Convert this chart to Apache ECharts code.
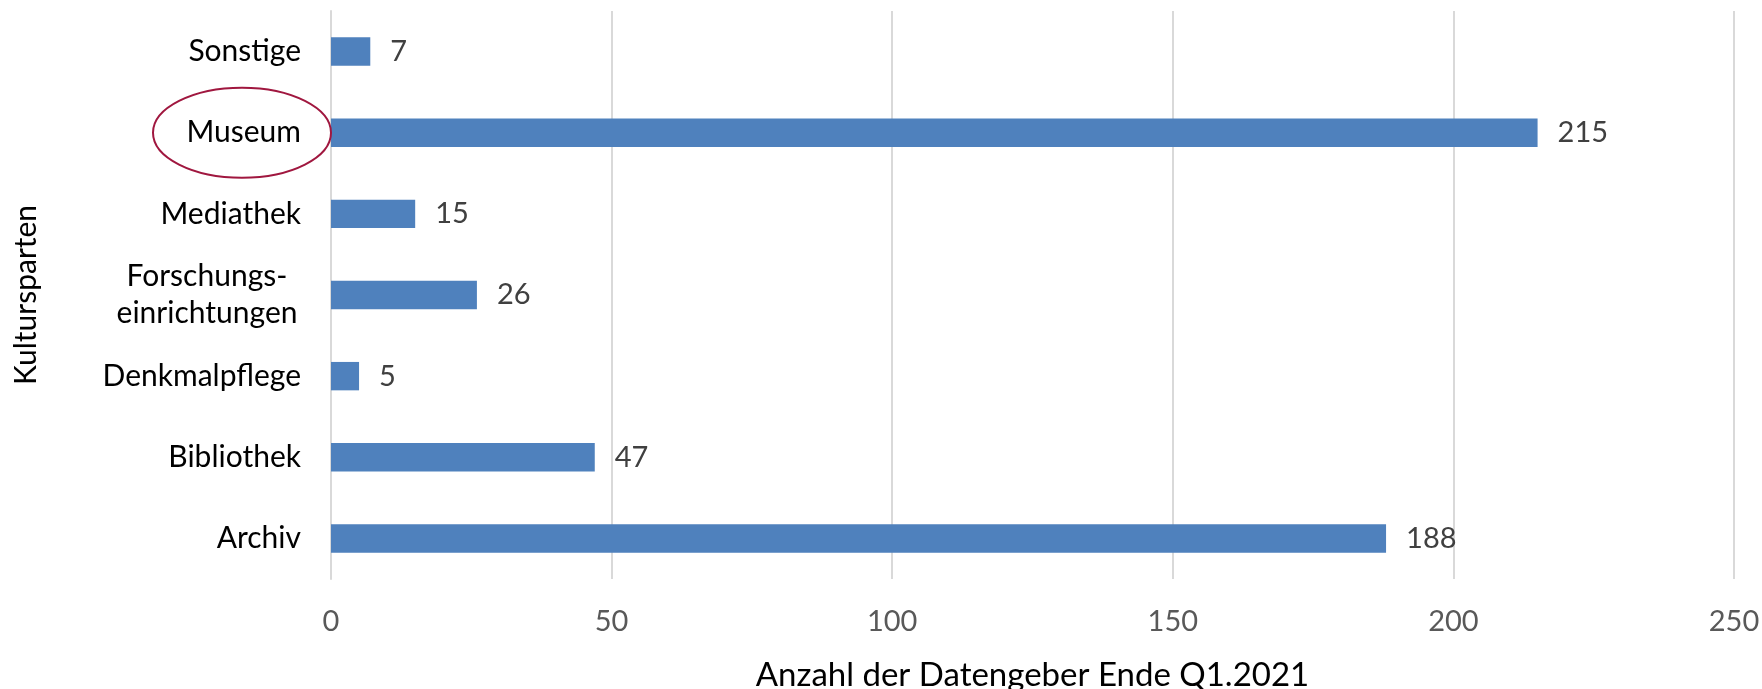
<!DOCTYPE html>
<html>
<head>
<meta charset="utf-8">
<script src="https://cdn.jsdelivr.net/npm/echarts@6/dist/echarts.min.js"></script>
<style>
  html, body { margin: 0; padding: 0; background: #fff; }
  #chart { width: 1762px; height: 689px; }
</style>
</head>
<body>
<div id="chart"></div>
<script>
// Kategorien von unten nach oben (wie im Original)
const categories = ['Archiv', 'Bibliothek', 'Denkmalpflege', 'Forschungs-\neinrichtungen', 'Mediathek', 'Museum', 'Sonstige'];
const values = [188, 47, 5, 26, 15, 215, 7];
const xTicks = [0, 50, 100, 150, 200, 250];
const highlighted = 'Museum';

const font = 'Lato, "Open Sans", sans-serif';

const chart = echarts.init(document.getElementById('chart'));

chart.setOption({
  animation: false,
  textStyle: { fontFamily: font },
  grid: { left: 331, right: 28, top: 11, bottom: 110, outerBoundsMode: 'none' },
  xAxis: {
    type: 'value',
    min: xTicks[0],
    max: xTicks[xTicks.length - 1],
    interval: xTicks[1] - xTicks[0],
    name: 'Anzahl der Datengeber Ende Q1.2021',
    nameLocation: 'middle',
    nameGap: 80,
    nameTextStyle: { color: '#000', fontSize: 33, fontFamily: font },
    axisLine: { show: false },
    axisTick: { show: false },
    axisLabel: { color: '#595959', fontSize: 29, margin: 28 },
    splitLine: { lineStyle: { color: '#d9d9d9', width: 2 } }
  },
  yAxis: {
    type: 'category',
    data: categories,
    name: 'Kultursparten',
    nameLocation: 'middle',
    nameGap: 290,
    nameTextStyle: { color: '#000', fontSize: 30, fontFamily: font },
    axisLine: { show: true, lineStyle: { color: '#d9d9d9', width: 2 } },
    axisTick: { show: false },
    axisLabel: {
      color: '#000',
      fontSize: 30,
      margin: 30,
      lineHeight: 37,
      formatter: function (v) {
        if (v.indexOf('\n') < 0) return v;
        // mehrzeilige Beschriftung zentriert
        return v.split('\n').map(s => '{c|' + s + '}').join('\n');
      },
      rich: {
        c: { width: 188, align: 'center', fontSize: 30, lineHeight: 37, color: '#000' }
      }
    }
  },
  series: [{
    type: 'bar',
    data: values,
    barCategoryGap: '65%',
    itemStyle: { color: '#4f81bd' },
    label: {
      show: true,
      position: 'right',
      distance: 20,
      color: '#404040',
      fontSize: 29
    }
  }]
});

// Ellipse um die hervorgehobene Kategorie
const cy = chart.convertToPixel({ yAxisIndex: 0 }, highlighted);
const ax = chart.convertToPixel({ xAxisIndex: 0 }, 0);
chart.setOption({
  graphic: [{
    type: 'ellipse',
    shape: { cx: ax - 89, cy: cy, rx: 89, ry: 45 },
    style: { fill: 'none', stroke: '#a0173f', lineWidth: 2 },
    z: 100
  }]
});
</script>
</body>
</html>
